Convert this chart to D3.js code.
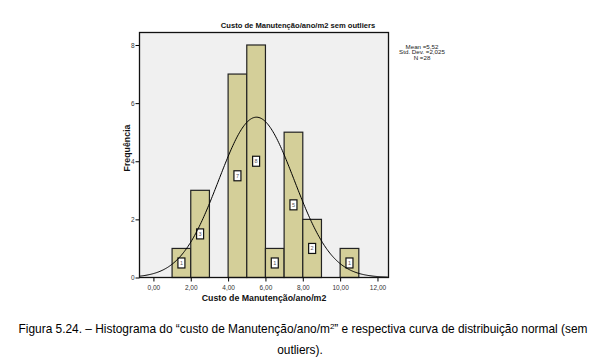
<!DOCTYPE html>
<html><head><meta charset="utf-8">
<script src="https://cdn.jsdelivr.net/npm/d3@7"></script>
<style>body{margin:0;background:#fff}svg{display:block}</style>
</head><body>
<svg id="c" width="600" height="364"></svg>
<script>
const binStarts = [1, 2, 4, 5, 6, 7, 8, 10];
const binCounts = [1, 3, 7, 8, 1, 5, 2, 1];
const binWidth = 1;
const xTicks = [0, 2, 4, 6, 8, 10, 12];
const yTicks = [0, 2, 4, 6, 8];
const mean = 5.52, sd = 2.025, n = 28;
const statLines = ["Mean =5,52", "Std. Dev. =2,025", "N =28"];

const svg = d3.select("#c");
const L = 139.5, R = 388.5, T = 32.5, B = 277.5;
const x = d3.scaleLinear().domain([-0.745, 12.59]).range([L, R]);
const y = d3.scaleLinear().domain([0, 8.43]).range([B, T]);

svg.append("rect").attr("x", L).attr("y", T).attr("width", R - L).attr("height", B - T)
  .attr("fill", "#f0f0f0");

const fmt = v => d3.format(".2f")(v).replace(".", ",");

// axes
const xa = svg.append("g").attr("transform", `translate(0,${B})`)
  .call(d3.axisBottom(x).tickValues(xTicks).tickFormat(fmt).tickSize(4).tickSizeOuter(0));
const ya = svg.append("g").attr("transform", `translate(${L},0)`)
  .call(d3.axisLeft(y).tickValues(yTicks).tickFormat(d3.format("d")).tickSize(4).tickSizeOuter(0));
[xa, ya].forEach(g => {
  g.select(".domain").remove();
  g.selectAll("line").attr("stroke", "#000");
  g.selectAll("text").attr("font-family", "Liberation Sans, Arial, sans-serif")
    .attr("font-size", 6.5).attr("fill", "#333");
});
xa.selectAll("text").attr("dy", "0.85em");
ya.selectAll("text").attr("dx", "2px").attr("dy", "0.32em");

// bars
svg.append("g").selectAll("rect").data(binStarts).join("rect")
  .attr("x", d => x(d)).attr("width", d => x(d + binWidth) - x(d))
  .attr("y", (d, i) => y(binCounts[i])).attr("height", (d, i) => y(0) - y(binCounts[i]))
  .attr("fill", "#d4cf99").attr("stroke", "#222").attr("stroke-width", 1.2);

// labels in bars
const lab = svg.append("g").selectAll("g").data(binStarts).join("g")
  .attr("transform", (d, i) => `translate(${x(d + binWidth / 2)},${y(binCounts[i] / 2)})`);
lab.append("rect").attr("x", -3.5).attr("y", -5).attr("width", 7).attr("height", 10)
  .attr("fill", "#fff").attr("stroke", "#111").attr("stroke-width", 1.2);
lab.append("text").text((d, i) => binCounts[i]).attr("text-anchor", "middle").attr("dy", "0.35em")
  .attr("font-family", "Liberation Sans, Arial, sans-serif").attr("font-size", 5.5).attr("fill", "#555");

// normal curve
const dens = v => n * binWidth / (sd * Math.sqrt(2 * Math.PI)) * Math.exp(-0.5 * ((v - mean) / sd) ** 2);
const xs = d3.range(x.domain()[0], x.domain()[1] + 0.001, 0.05);
svg.append("path").datum(xs)
  .attr("d", d3.line().x(v => x(v)).y(v => y(dens(v))))
  .attr("fill", "none").attr("stroke", "#000").attr("stroke-width", 1);

// frame
svg.append("rect").attr("x", L).attr("y", T).attr("width", R - L).attr("height", B - T)
  .attr("fill", "none").attr("stroke", "#111").attr("stroke-width", 1.3);

// title
svg.append("text").attr("x", 298).attr("y", 28).attr("text-anchor", "middle")
  .attr("font-family", "Liberation Sans, Arial, sans-serif").attr("font-size", 7.6).attr("font-weight", "bold")
  .attr("fill", "#111").text("Custo de Manutenção/ano/m2 sem outliers");

// axis titles
svg.append("text").attr("x", (L + R) / 2).attr("y", 301).attr("text-anchor", "middle")
  .attr("font-family", "Liberation Sans, Arial, sans-serif").attr("font-size", 8.8).attr("font-weight", "bold")
  .attr("fill", "#111").text("Custo de Manutenção/ano/m2");
svg.append("text").attr("transform", "translate(130,148) rotate(-90)").attr("text-anchor", "middle")
  .attr("font-family", "Liberation Sans, Arial, sans-serif").attr("font-size", 8.8).attr("font-weight", "bold")
  .attr("fill", "#111").text("Frequência");

// stats
svg.append("g").selectAll("text").data(statLines).join("text")
  .attr("x", 422).attr("y", (d, i) => 48.5 + i * 5.8).attr("text-anchor", "middle")
  .attr("font-family", "Liberation Sans, Arial, sans-serif").attr("font-size", 6.2).attr("fill", "#222")
  .text(d => d);

// caption
const cap = svg.append("text").attr("x", 303).attr("y", 333).attr("text-anchor", "middle")
  .attr("font-family", "Liberation Sans, Arial, sans-serif").attr("font-size", 11.9).attr("fill", "#000");
cap.append("tspan").text("Figura 5.24. – Histograma do “custo de Manutenção/ano/m");
cap.append("tspan").attr("dy", -4).attr("font-size", 8).text("2");
cap.append("tspan").attr("dy", 4).text("” e respectiva curva de distribuição normal (sem");
svg.append("text").attr("x", 300).attr("y", 354).attr("text-anchor", "middle")
  .attr("font-family", "Liberation Sans, Arial, sans-serif").attr("font-size", 11.9).attr("fill", "#000")
  .text("outliers).");
</script>
</body></html>
